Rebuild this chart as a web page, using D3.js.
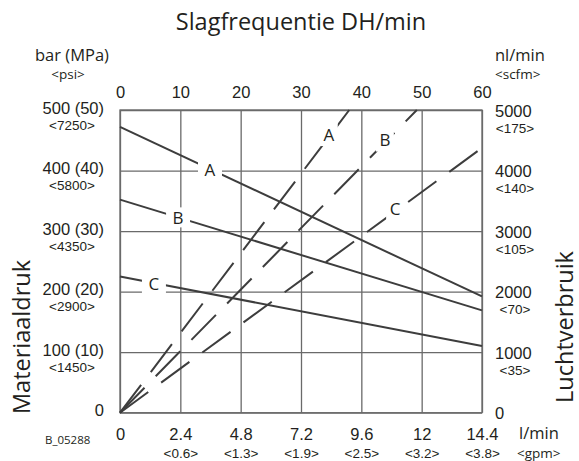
<!DOCTYPE html>
<html>
<head>
<meta charset="utf-8">
<script src="https://cdn.jsdelivr.net/npm/d3@7"></script>
<style>
  html, body { margin: 0; padding: 0; background: #fff; }
  svg { display: block; font-family: "Open Sans", sans-serif; }
  .grid line, .grid path { stroke: #6a6a6a; stroke-width: 1.3; }
  .tick text { fill: #231f20; }
  .lbl { fill: #231f20; }
</style>
</head>
<body>
<svg id="chart" width="579" height="461"></svg>
<script>
// --- axes ---
const flowTicks = [0, 2.4, 4.8, 7.2, 9.6, 12, 14.4];          // l/min (bottom)
const gpmLabels = ["", "<0.6>", "<1.3>", "<1.9>", "<2.5>", "<3.2>", "<3.8>"];
const freqTicks = [0, 10, 20, 30, 40, 50, 60];                  // DH/min (top)
const pressureTicks = [0, 100, 200, 300, 400, 500];             // bar (left)
const pressureLabels = ["0", "100 (10)", "200 (20)", "300 (30)", "400 (40)", "500 (50)"];
const psiLabels = ["", "<1450>", "<2900>", "<4350>", "<5800>", "<7250>"];
const airTicks = [0, 1000, 2000, 3000, 4000, 5000];             // nl/min (right)
const scfmLabels = ["", "<35>", "<70>", "<105>", "<140>", "<175>"];

// --- series: material pressure vs flow (solid) ---
const seriesNames = ["A", "B", "C"];
const flowPoints = [0, 14.4];
const pressureA = [472, 192];
const pressureB = [352, 169];
const pressureC = [225, 110];
const pressureLabelFlow = [3.58, 2.31, 1.35];

// --- series: air consumption vs stroke frequency (dashed) ---
const freqA = [0, 38], airA = [0, 5000];
const freqB = [0, 49.2], airB = [0, 5000];
const freqC = [0, 59.4], airC = [0, 4330];
const airLabelFreq = [34.6, 43.9, 45.6];

const svg = d3.select("#chart");
const L = 120, R = 482, T = 110, B = 412.7;
const SUB = 13.5, MAIN = 16.5;
const xFlow = d3.scaleLinear([0, 14.4], [L, R]);
const xFreq = d3.scaleLinear([0, 60], [L, R]);
const yP = d3.scaleLinear([0, 500], [B, T]);
const yAir = d3.scaleLinear([0, 5000], [B, T]);

// grid (vertical from bottom axis, horizontal from left axis)
svg.append("g").attr("class", "grid").attr("transform", `translate(0,${B})`)
  .call(d3.axisBottom(xFlow).tickValues(flowTicks).tickSize(-(B - T)).tickFormat(""))
  .call(g => g.select(".domain").remove());
svg.append("g").attr("class", "grid").attr("transform", `translate(${L},0)`)
  .call(d3.axisLeft(yP).tickValues(pressureTicks).tickSize(-(R - L)).tickFormat(""))
  .call(g => g.select(".domain").remove());
svg.append("rect").attr("x", L).attr("y", T).attr("width", R - L).attr("height", B - T)
  .attr("fill", "none").attr("stroke", "#6a6a6a").attr("stroke-width", 1.3);

// tick labels
const axBottom = svg.append("g").attr("transform", `translate(0,${B})`)
  .call(d3.axisBottom(xFlow).tickValues(flowTicks).tickSize(0).tickFormat(d => String(d)))
  .call(g => g.select(".domain").remove());
axBottom.selectAll(".tick text").attr("y", 27).attr("dy", 0).attr("font-size", MAIN);
axBottom.selectAll(".tick").append("text").attr("y", 45).attr("text-anchor", "middle")
  .attr("font-size", SUB).attr("fill", "#231f20").text((d, i) => gpmLabels[i]);

const axTop = svg.append("g").attr("transform", `translate(0,${T})`)
  .call(d3.axisTop(xFreq).tickValues(freqTicks).tickSize(0).tickFormat(d => String(d)))
  .call(g => g.select(".domain").remove());
axTop.selectAll(".tick text").attr("y", -12).attr("dy", 0).attr("font-size", MAIN);

const axLeft = svg.append("g").attr("transform", `translate(${L},0)`)
  .call(d3.axisLeft(yP).tickValues(pressureTicks).tickSize(0).tickFormat((d, i) => pressureLabels[i]))
  .call(g => g.select(".domain").remove());
axLeft.selectAll(".tick text").attr("x", -16).attr("y", 3).attr("dy", 0).attr("font-size", MAIN);
axLeft.selectAll(".tick").append("text").attr("x", -48).attr("y", 19).attr("text-anchor", "middle")
  .attr("font-size", SUB).attr("fill", "#231f20").text((d, i) => psiLabels[i]);

const axRight = svg.append("g").attr("transform", `translate(${R},0)`)
  .call(d3.axisRight(yAir).tickValues(airTicks).tickSize(0).tickFormat(d => String(d)))
  .call(g => g.select(".domain").remove());
axRight.selectAll(".tick text").attr("x", 13).attr("y", 6).attr("dy", 0).attr("font-size", MAIN);
axRight.selectAll(".tick").append("text").attr("x", 33).attr("y", 22).attr("text-anchor", "middle")
  .attr("font-size", SUB).attr("fill", "#231f20").text((d, i) => scfmLabels[i]);

// unit labels and titles
const txt = (x, y, s, size, anchor, rot) => {
  const t = svg.append("text").attr("class", "lbl").attr("font-size", size)
    .attr("text-anchor", anchor || "start").text(s);
  if (rot) t.attr("transform", `translate(${x},${y}) rotate(-90)`);
  else t.attr("x", x).attr("y", y);
  return t;
};
txt((L + R) / 2, 30, "Slagfrequentie DH/min", 23.5, "middle");
txt(72, 61, "bar (MPa)", MAIN, "middle");
txt(68, 79, "<psi>", SUB, "middle");
txt(495, 61, "nl/min", MAIN);
txt(495, 79, "<scfm>", SUB);
txt(519, 439, "l/min", MAIN);
txt(517, 458, "<gpm>", SUB);
txt(45, 444, "B_05288", 11.5);
txt(30, 337, "Materiaaldruk", 23.5, "middle", true);
txt(572.5, 327, "Luchtverbruik", 23.5, "middle", true);

// lines
const lineFlow = d3.line().x(d => xFlow(d[0])).y(d => yP(d[1]));
const lineFreq = d3.line().x(d => xFreq(d[0])).y(d => yAir(d[1]));
const solid = [pressureA, pressureB, pressureC].map(p => flowPoints.map((f, i) => [f, p[i]]));
const dashed = [[freqA, airA], [freqB, airB], [freqC, airC]].map(([f, a]) => f.map((v, i) => [v, a[i]]));

svg.append("g").selectAll("path").data(solid).join("path")
  .attr("d", lineFlow).attr("fill", "none").attr("stroke", "#3d3d3d").attr("stroke-width", 2);
svg.append("g").selectAll("path").data(dashed).join("path")
  .attr("d", lineFreq).attr("fill", "none").attr("stroke", "#3d3d3d").attr("stroke-width", 2)
  .attr("stroke-dasharray", "35,16");

// series labels with white knock-out
const interp = (pts, x) => pts[0][1] + (pts[1][1] - pts[0][1]) * (x - pts[0][0]) / (pts[1][0] - pts[0][0]);
const labels = [];
seriesNames.forEach((n, i) => {
  const f = pressureLabelFlow[i];
  labels.push({ n, x: xFlow(f), y: yP(interp(solid[i], f)), w: 24, h: 20 });
  const q = airLabelFreq[i];
  labels.push({ n, x: xFreq(q), y: yAir(interp(dashed[i], q)) - 3, w: 18, h: 24 });
});
const lg = svg.append("g").selectAll("g").data(labels).join("g")
  .attr("transform", d => `translate(${d.x},${d.y})`);
lg.append("rect").attr("x", d => -d.w / 2).attr("y", d => -d.h / 2)
  .attr("width", d => d.w).attr("height", d => d.h).attr("fill", "#fff");
lg.append("text").attr("class", "lbl").attr("text-anchor", "middle").attr("y", 6.5)
  .attr("font-size", 17).text(d => d.n);
</script>
</body>
</html>
